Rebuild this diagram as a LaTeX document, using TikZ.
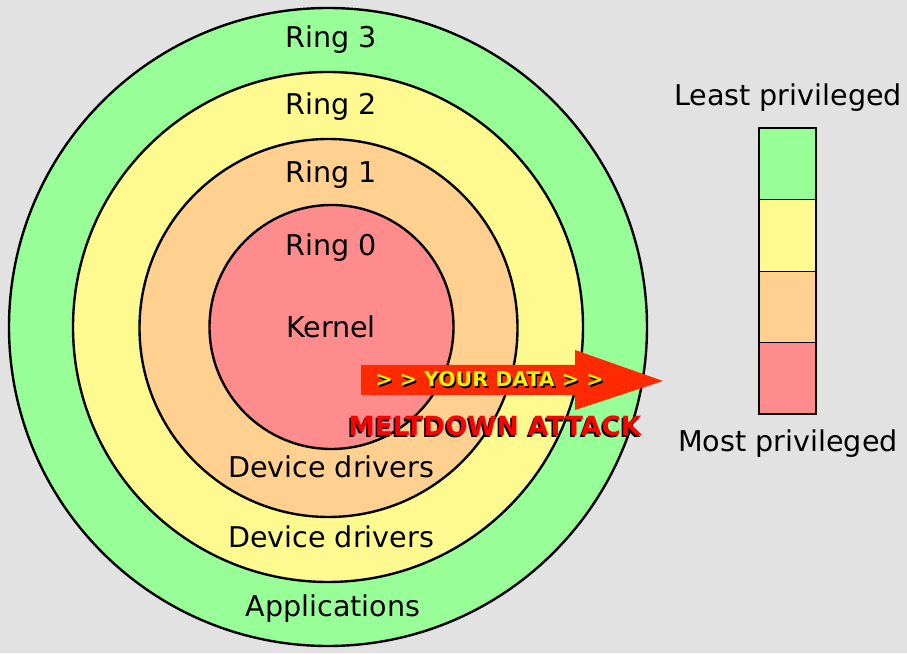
\documentclass[tikz,border=0pt]{standalone}
\usepackage{fontspec}
\setmainfont{DejaVu Sans}
\usetikzlibrary{positioning}
\definecolor{ringthree}{HTML}{98FF98}
\definecolor{ringtwo}{HTML}{FFFA90}
\definecolor{ringone}{HTML}{FFD090}
\definecolor{ringzero}{HTML}{FF8C8C}
\definecolor{bgray}{HTML}{E2E2E2}
\definecolor{arrowred}{HTML}{FF2A00}
\newcommand{\shadowtxt}[4]{\makebox[0pt][l]{\hspace*{#1}\raisebox{#2}{\color{black}#4}}{\color{#3}#4}}
\tikzset{>=stealth,
  lbl/.style={font=\fontsize{28.6}{32}\selectfont, inner sep=0pt, anchor=base},
  ring/.style={draw=black, line width=2.4pt}}
\begin{document}
\begin{tikzpicture}[x=1pt, y=1pt]
\fill[bgray] (0,0) rectangle (907,653);
\useasboundingbox (0,0) rectangle (907,653);

\draw[ring, fill=ringthree] (328,326) circle (319);
\draw[ring, fill=ringtwo] (328,326) circle (255);
\draw[ring, fill=ringone] (328.5,325) circle (189);
\draw[ring, fill=ringzero] (331.5,326) circle (122);

\node[lbl] (r3) at (331,605){Ring 3};
\node[lbl] (r2) at (331,538){Ring 2};
\node[lbl] (r1) at (331,470){Ring 1};
\node[lbl] (r0) at (331,397){Ring 0};
\node[lbl] (kern) at (331,315){Kernel};
\node[lbl] (dd1) at (331,175){Device drivers};
\node[lbl] (dd2) at (331,105){Device drivers};
\node[lbl] (apps) at (333,37){Applications};

% legend bar
\draw[thick, fill=ringthree] (759,525) rectangle (816,454);
\draw[thick, fill=ringtwo] (759,454) rectangle (816,382);
\draw[thick, fill=ringone] (759,382) rectangle (816,311);
\draw[thick, fill=ringzero] (759,311) rectangle (816,239);
\draw[line width=1.8pt] (759,525) rectangle (816,239);
\node[lbl] (least) at (788,547){Least privileged};
\node[lbl] (most) at (788,201){Most privileged};

% attack arrow
\fill[arrowred] (361,288)--(575,288)--(575,303)--(663,272)--(575,243)--(575,258)--(361,258)--cycle;
\node[font=\fontsize{20.5}{22}\selectfont\bfseries, inner sep=0pt] (data) at (489.5,273){\shadowtxt{1.5pt}{-1.5pt}{yellow}{> > YOUR DATA > >}};
\node[font=\fontsize{26.4}{30}\selectfont\bfseries, inner sep=0pt] (melt) at (495,226){\shadowtxt{-1.5pt}{-1.5pt}{red}{MELTDOWN ATTACK}};
\end{tikzpicture}
\end{document}
